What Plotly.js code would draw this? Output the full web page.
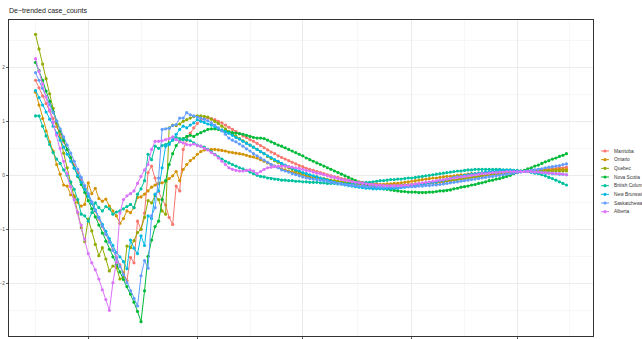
<!DOCTYPE html>
<html>
<head>
<meta charset="utf-8">
<script src="https://cdn.plot.ly/plotly-3.0.1.min.js"></script>
<style>html,body{margin:0;padding:0;background:#fff;}#chart{width:642px;height:339px;}</style>
</head>
<body>
<div id="chart"></div>
<script>
// ---- data ----
const startDate = '2020-02-15';   // first daily observation
const provinces = ['Manitoba','Ontario','Quebec','Nova Scotia','British Columbia','New Brunswick','Saskatchewan','Alberta'];
const colors = ['#F8766D','#D39200','#93AA00','#00BA38','#00C19F','#00B9E3','#619CFF','#DB72FB'];

const manitoba = [1.76,1.62,1.47,1.33,1.19,1.05,0.90,0.76,0.62,0.48,
0.33,0.19,0.05,-0.09,-0.24,-0.38,-0.52,-0.66,-0.81,-0.95,
-1.09,-1.23,-1.38,-1.52,-1.66,-1.80,-1.95,-1.52,-1.62,-0.85,
-1.00,-0.70,0.05,0.17,-0.05,-0.30,-0.45,-0.55,-0.78,-0.91,
-0.20,-0.29,0.48,0.65,0.78,0.88,0.96,1.02,1.05,1.06,
1.05,1.03,1.00,0.97,0.93,0.89,0.85,0.81,0.77,0.73,
0.70,0.66,0.63,0.59,0.55,0.51,0.47,0.43,0.40,0.36,
0.33,0.30,0.27,0.24,0.21,0.18,0.16,0.13,0.11,0.09,
0.07,0.05,0.03,0.01,-0.01,-0.03,-0.04,-0.06,-0.07,-0.09,
-0.10,-0.11,-0.12,-0.13,-0.14,-0.15,-0.16,-0.16,-0.17,-0.17,
-0.18,-0.18,-0.18,-0.18,-0.18,-0.18,-0.18,-0.17,-0.17,-0.17,
-0.16,-0.16,-0.15,-0.14,-0.14,-0.13,-0.12,-0.11,-0.10,-0.09,
-0.08,-0.07,-0.06,-0.05,-0.04,-0.03,-0.02,-0.01,0.00,0.01,
0.02,0.03,0.04,0.04,0.05,0.05,0.06,0.06,0.07,0.07,
0.08,0.08,0.09,0.10,0.10,0.11,0.12,0.12,0.13,0.14,0.14,0.15];

const ontario = [1.54,1.30,1.05,0.82,0.62,0.45,0.20,0.02,-0.18,-0.20,
-0.36,-0.38,-0.50,-0.57,-0.54,-0.14,-0.34,-0.24,-0.43,-0.48,
-0.44,-0.57,-0.66,-0.75,-0.89,-0.80,-0.66,-0.69,-0.60,-0.41,
-0.40,-0.35,-0.29,-0.22,-0.18,-0.15,-0.14,-0.11,-0.06,-0.01,
0.07,-0.10,0.11,0.20,0.27,0.32,0.39,0.44,0.47,0.48,
0.48,0.48,0.47,0.46,0.45,0.43,0.42,0.41,0.40,0.39,
0.37,0.35,0.34,0.32,0.29,0.26,0.23,0.20,0.17,0.15,
0.12,0.10,0.08,0.06,0.05,0.03,0.01,-0.01,-0.03,-0.04,
-0.05,-0.06,-0.07,-0.09,-0.10,-0.11,-0.12,-0.13,-0.14,-0.15,
-0.15,-0.16,-0.16,-0.17,-0.17,-0.17,-0.17,-0.17,-0.17,-0.17,
-0.16,-0.16,-0.15,-0.15,-0.14,-0.13,-0.12,-0.11,-0.10,-0.09,
-0.08,-0.07,-0.06,-0.05,-0.05,-0.04,-0.03,-0.02,-0.02,-0.01,
0.00,0.01,0.01,0.02,0.03,0.03,0.04,0.04,0.05,0.05,
0.06,0.06,0.06,0.07,0.07,0.07,0.07,0.08,0.08,0.08,
0.08,0.09,0.09,0.09,0.10,0.10,0.10,0.10,0.11,0.11,0.11,0.11];

const quebec = [2.61,2.34,2.06,1.79,1.51,1.24,0.96,0.69,0.41,0.14,
-0.14,-0.41,-0.69,-0.97,-1.23,-0.81,-1.03,-1.28,-1.49,-1.34,
-1.55,-1.77,-1.68,-1.71,-1.92,-1.89,-1.31,-1.34,-1.21,-1.06,
-1.00,-0.78,-0.47,-0.51,-0.38,-0.45,-0.66,-0.72,0.88,0.93,
0.92,0.95,1.00,1.03,1.06,1.09,1.10,1.10,1.09,1.08,
1.04,1.00,0.96,0.91,0.86,0.81,0.76,0.72,0.68,0.64,
0.60,0.56,0.52,0.48,0.44,0.40,0.35,0.31,0.27,0.24,
0.20,0.17,0.14,0.11,0.08,0.06,0.04,0.02,0.00,-0.02,
-0.03,-0.05,-0.06,-0.08,-0.09,-0.10,-0.11,-0.12,-0.13,-0.14,
-0.15,-0.16,-0.17,-0.17,-0.18,-0.18,-0.19,-0.19,-0.19,-0.19,
-0.19,-0.19,-0.19,-0.19,-0.18,-0.18,-0.17,-0.17,-0.16,-0.16,
-0.15,-0.15,-0.14,-0.13,-0.13,-0.12,-0.11,-0.10,-0.09,-0.09,
-0.08,-0.07,-0.06,-0.05,-0.04,-0.03,-0.02,-0.01,0.00,0.01,
0.02,0.03,0.03,0.04,0.05,0.05,0.06,0.06,0.07,0.07,
0.07,0.08,0.08,0.08,0.08,0.08,0.08,0.08,0.08,0.08,0.08,0.08];

const novaScotia = [2.09,1.94,1.76,1.56,1.37,1.18,1.00,0.82,0.65,0.48,
0.33,0.14,-0.02,-0.17,-0.32,-0.47,-0.62,-0.77,-0.92,-1.07,
-1.22,-1.37,-1.51,-1.65,-1.79,-1.93,-2.06,-2.20,-2.35,-2.52,
-2.71,-2.14,-1.50,-1.20,-0.95,-0.85,-0.45,-0.10,0.20,0.40,
0.55,0.63,0.68,0.72,0.74,0.72,0.76,0.79,0.82,0.85,
0.86,0.86,0.85,0.83,0.82,0.80,0.79,0.78,0.77,0.76,
0.74,0.72,0.70,0.69,0.69,0.68,0.65,0.62,0.59,0.56,
0.54,0.51,0.48,0.45,0.42,0.39,0.36,0.32,0.29,0.26,
0.23,0.20,0.17,0.14,0.11,0.08,0.05,0.02,-0.01,-0.04,
-0.07,-0.10,-0.13,-0.16,-0.19,-0.21,-0.22,-0.23,-0.24,-0.25,
-0.26,-0.27,-0.28,-0.29,-0.30,-0.30,-0.31,-0.31,-0.31,-0.32,
-0.32,-0.32,-0.31,-0.31,-0.30,-0.29,-0.29,-0.28,-0.27,-0.25,
-0.24,-0.22,-0.21,-0.20,-0.18,-0.17,-0.15,-0.14,-0.12,-0.10,
-0.09,-0.07,-0.06,-0.04,-0.02,0.00,0.03,0.05,0.07,0.09,
0.12,0.14,0.17,0.19,0.22,0.25,0.27,0.30,0.32,0.35,0.37,0.40];

const britishColumbia = [1.10,1.10,0.91,0.73,0.57,0.42,0.30,0.22,0.10,0.00,
-0.12,-0.26,-0.45,-0.72,-0.75,-0.85,-0.69,-0.51,-0.60,-0.66,
-0.58,-0.62,-0.72,-0.68,-0.66,-0.62,-0.58,-0.54,-0.60,-0.35,
-0.25,-0.10,0.39,0.29,0.54,0.50,0.55,0.57,0.60,0.65,
0.70,0.68,0.66,0.66,0.64,0.60,0.56,0.54,0.52,0.48,
0.44,0.39,0.34,0.30,0.26,0.23,0.20,0.17,0.14,0.12,
0.09,0.06,0.03,0.00,-0.02,-0.03,-0.05,-0.06,-0.07,-0.08,
-0.09,-0.09,-0.10,-0.10,-0.11,-0.11,-0.12,-0.12,-0.13,-0.13,
-0.13,-0.14,-0.14,-0.15,-0.15,-0.15,-0.16,-0.16,-0.16,-0.16,
-0.15,-0.15,-0.14,-0.14,-0.13,-0.13,-0.12,-0.11,-0.10,-0.10,
-0.09,-0.08,-0.08,-0.07,-0.07,-0.06,-0.05,-0.05,-0.04,-0.03,
-0.02,-0.01,0.00,0.01,0.02,0.03,0.04,0.05,0.06,0.07,
0.08,0.08,0.09,0.10,0.10,0.11,0.11,0.11,0.11,0.11,
0.11,0.11,0.11,0.10,0.10,0.10,0.09,0.09,0.08,0.08,
0.07,0.06,0.04,0.03,0.01,-0.01,-0.04,-0.06,-0.09,-0.12,-0.15,-0.18];

const newBrunswick = [1.57,1.44,1.30,1.17,1.04,0.91,0.78,0.65,0.52,0.39,
0.26,0.13,0.00,-0.13,-0.26,-0.39,-0.52,-0.65,-0.78,-0.91,
-1.04,-1.17,-1.30,-1.43,-1.51,-1.60,-1.73,-1.20,-1.35,-1.45,
-1.12,-1.30,-0.75,-0.80,-0.35,-0.29,0.14,0.54,0.57,0.66,
0.76,0.85,0.91,0.88,0.93,0.97,1.03,1.00,0.98,0.95,
0.93,0.90,0.87,0.84,0.81,0.78,0.74,0.70,0.67,0.63,
0.59,0.56,0.52,0.48,0.44,0.40,0.36,0.33,0.29,0.26,
0.22,0.19,0.16,0.13,0.10,0.08,0.05,0.03,0.01,-0.01,
-0.03,-0.05,-0.07,-0.09,-0.11,-0.13,-0.15,-0.16,-0.18,-0.19,
-0.20,-0.21,-0.22,-0.23,-0.24,-0.24,-0.25,-0.25,-0.25,-0.25,
-0.25,-0.25,-0.24,-0.24,-0.23,-0.22,-0.21,-0.20,-0.19,-0.18,
-0.17,-0.16,-0.14,-0.13,-0.12,-0.10,-0.09,-0.07,-0.06,-0.04,
-0.03,-0.02,0.00,0.01,0.02,0.03,0.04,0.05,0.06,0.07,
0.08,0.08,0.09,0.09,0.09,0.09,0.09,0.08,0.08,0.07,
0.07,0.06,0.06,0.05,0.05,0.04,0.04,0.03,0.03,0.02,0.02,0.01];

const saskatchewan = [1.90,1.76,1.61,1.46,1.31,1.16,1.01,0.86,0.71,0.56,
0.41,0.26,0.11,-0.04,-0.19,-0.34,-0.49,-0.64,-0.79,-0.94,
-1.09,-1.24,-1.39,-1.54,-1.69,-1.84,-1.99,-2.14,-2.28,-2.42,
-1.86,-1.58,-1.72,-0.75,-0.60,-0.05,0.85,0.86,0.87,0.92,
0.94,1.06,1.06,1.16,1.12,1.10,1.08,1.06,1.04,1.01,
0.97,0.93,0.88,0.82,0.76,0.69,0.65,0.62,0.58,0.54,
0.49,0.45,0.40,0.36,0.32,0.28,0.24,0.20,0.17,0.14,
0.10,0.08,0.06,0.03,0.01,-0.01,-0.03,-0.05,-0.06,-0.07,
-0.08,-0.09,-0.10,-0.11,-0.13,-0.14,-0.15,-0.16,-0.17,-0.18,
-0.19,-0.19,-0.20,-0.20,-0.21,-0.21,-0.21,-0.22,-0.22,-0.22,
-0.22,-0.22,-0.22,-0.22,-0.22,-0.21,-0.21,-0.21,-0.21,-0.20,
-0.20,-0.19,-0.19,-0.18,-0.18,-0.17,-0.16,-0.15,-0.14,-0.13,
-0.12,-0.11,-0.10,-0.09,-0.08,-0.07,-0.06,-0.05,-0.04,-0.03,
-0.02,-0.01,0.00,0.01,0.02,0.03,0.04,0.05,0.06,0.07,
0.08,0.09,0.10,0.11,0.12,0.14,0.15,0.16,0.17,0.18,0.20,0.21];

const alberta = [2.16,1.92,1.69,1.45,1.21,0.98,0.74,0.50,0.26,0.03,
-0.21,-0.45,-0.68,-0.92,-1.18,-1.45,-1.62,-1.75,-1.92,-2.12,
-2.30,-2.50,-1.99,-1.61,-0.70,-0.45,-0.38,-0.34,-0.29,-0.15,
-0.02,0.10,0.20,0.48,0.63,0.63,0.64,0.66,0.68,0.71,
0.66,0.62,0.60,0.57,0.56,0.58,0.55,0.54,0.50,0.47,
0.42,0.38,0.32,0.26,0.20,0.14,0.11,0.09,0.08,0.08,
0.09,0.10,0.08,0.03,0.07,0.11,0.14,0.15,0.16,0.17,
0.17,0.17,0.16,0.15,0.14,0.13,0.11,0.09,0.08,0.06,
0.04,0.03,0.01,-0.01,-0.03,-0.04,-0.06,-0.08,-0.09,-0.10,
-0.12,-0.13,-0.14,-0.15,-0.16,-0.17,-0.17,-0.18,-0.18,-0.19,
-0.19,-0.19,-0.19,-0.19,-0.19,-0.18,-0.18,-0.17,-0.16,-0.15,
-0.14,-0.13,-0.12,-0.11,-0.10,-0.09,-0.08,-0.07,-0.06,-0.05,
-0.04,-0.03,-0.02,-0.01,0.00,0.01,0.02,0.03,0.03,0.04,
0.05,0.05,0.06,0.06,0.07,0.07,0.07,0.07,0.07,0.07,
0.07,0.07,0.06,0.06,0.05,0.05,0.04,0.04,0.03,0.03,0.02,0.01];

const seriesValues = [manitoba, ontario, quebec, novaScotia, britishColumbia, newBrunswick, saskatchewan, alberta];

const xTickVals = ['2020-03-01','2020-04-01','2020-05-01','2020-06-01','2020-07-01'];
const xMinorVals = ['2020-02-15','2020-03-16','2020-04-16','2020-05-16 12:00','2020-06-16','2020-07-16'];
const yTickVals = [-2,-1,0,1,2];
const yTickText = ['\u22122','\u22121','0','1','2'];
const yMinorVals = [-2.5,-1.5,-0.5,0.5,1.5,2.5];
const chartTitle = 'De\u2212trended case_counts';

// ---- build dates ----
function dayList(start, n) {
  const out = [];
  const d0 = new Date(start + 'T00:00:00Z');
  for (let k = 0; k < n; k++) {
    const d = new Date(d0.getTime() + k * 86400000);
    out.push(d.toISOString().slice(0, 10));
  }
  return out;
}

const traces = provinces.map((name, k) => ({
  type: 'scatter',
  mode: 'lines+markers',
  name: name,
  x: dayList(startDate, seriesValues[k].length),
  y: seriesValues[k],
  line: {color: colors[k], width: 1},
  marker: {color: colors[k], size: 3.2},
  showlegend: false,
  hoverinfo: 'skip'
}));

// ---- manual legend (ggplot-style compact keys) ----
const W = 642, H = 339;
const M = {l: 9, r: 49, t: 20, b: 3};
const plotW = W - M.l - M.r, plotH = H - M.t - M.b;
const legendTopPx = 151, legendStepPx = 8.67;
const shapes = [], annotations = [];
provinces.forEach((name, k) => {
  const py = legendTopPx + k * legendStepPx;
  const yp = (H - M.b - py) / plotH;
  const xc = (605 - M.l) / plotW;
  shapes.push({type: 'line', xref: 'paper', yref: 'paper', xsizemode: 'pixel', xanchor: xc,
    x0: -4, x1: 4, y0: yp, y1: yp, line: {color: colors[k], width: 1}});
  shapes.push({type: 'circle', xref: 'paper', yref: 'paper', xsizemode: 'pixel', ysizemode: 'pixel',
    xanchor: xc, yanchor: yp, x0: -1.6, x1: 1.6, y0: -1.6, y1: 1.6,
    fillcolor: colors[k], line: {width: 0}});
  annotations.push({xref: 'paper', yref: 'paper', x: (612 - M.l) / plotW, y: yp,
    xanchor: 'left', yanchor: 'middle', text: name, showarrow: false,
    font: {size: 4.8, color: '#333333', family: 'Liberation Sans, Arial, sans-serif'}});
});

const layout = {
  width: W, height: H,
  margin: M,
  paper_bgcolor: '#ffffff',
  plot_bgcolor: '#ffffff',
  font: {family: 'Liberation Sans, Arial, sans-serif', color: '#333333'},
  title: {text: chartTitle, x: 9 / W, xanchor: 'left', xref: 'container',
    y: 1 - 11 / H, yanchor: 'middle', yref: 'container',
    font: {size: 7, color: '#1a1a1a', family: 'Liberation Sans, Arial, sans-serif'}},
  xaxis: {
    type: 'date',
    range: ['2020-02-07 10:48', '2020-07-22 13:12'],
    tickmode: 'array', tickvals: xTickVals, tickformat: '%Y-%m-%d',
    ticks: 'outside', ticklen: 2, tickcolor: '#333333', tickwidth: 0.8,
    tickfont: {size: 5, color: '#4d4d4d'},
    showgrid: true, gridcolor: '#EBEBEB', gridwidth: 1.1,
    minor: {tickmode: 'array', tickvals: xMinorVals, showgrid: true, gridcolor: '#F3F3F3', gridwidth: 0.7, ticks: ''},
    showline: true, mirror: true, linecolor: '#333333', linewidth: 1,
    zeroline: false, fixedrange: true
  },
  yaxis: {
    range: [-2.976, 2.876],
    tickmode: 'array', tickvals: yTickVals, ticktext: yTickText,
    ticks: 'outside', ticklen: 2, tickcolor: '#333333', tickwidth: 0.8,
    tickfont: {size: 4.8, color: '#4d4d4d'},
    showgrid: true, gridcolor: '#EBEBEB', gridwidth: 1.1,
    minor: {tickmode: 'array', tickvals: yMinorVals, showgrid: true, gridcolor: '#F3F3F3', gridwidth: 0.7, ticks: ''},
    showline: true, mirror: true, linecolor: '#333333', linewidth: 1,
    zeroline: false, fixedrange: true
  },
  shapes: shapes,
  annotations: annotations,
  showlegend: false
};

Plotly.newPlot('chart', traces, layout, {staticPlot: true, displayModeBar: false});
</script>
</body>
</html>
